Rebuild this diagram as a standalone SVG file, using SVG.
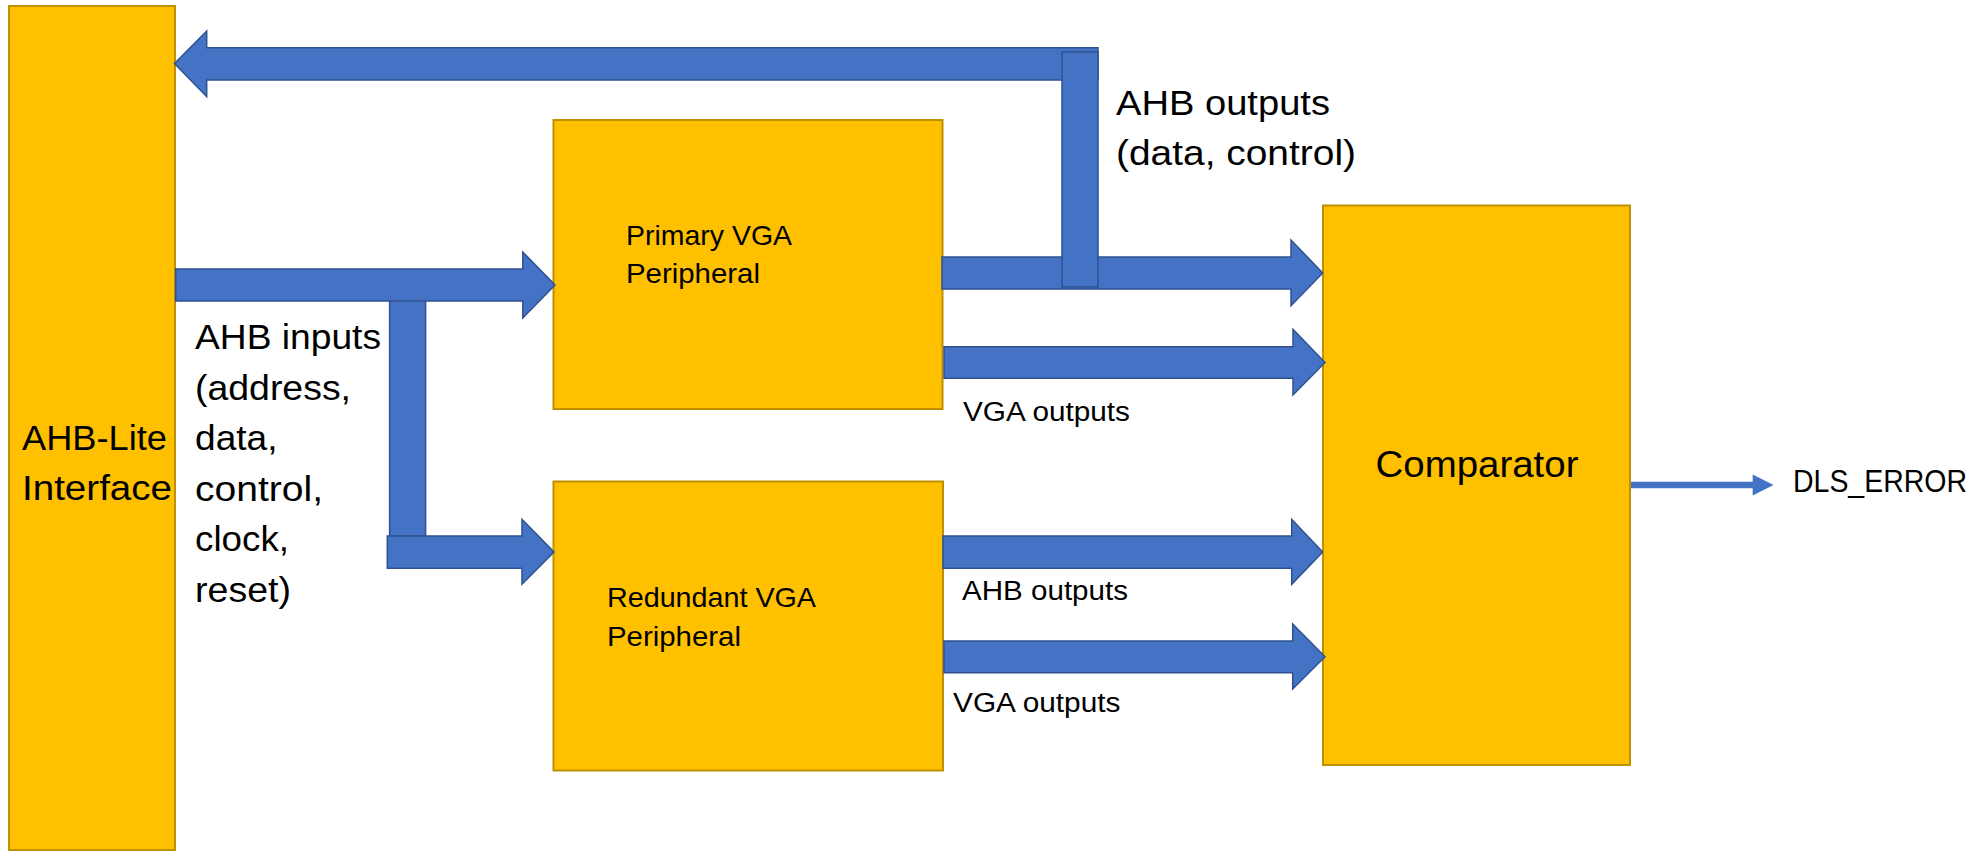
<svg xmlns="http://www.w3.org/2000/svg" width="1988" height="851" viewBox="0 0 1988 851">
<style>
.box{fill:#FFC000;stroke:#BF9000;stroke-width:2}
.bus{fill:#4472C4;stroke:#2F528F;stroke-width:1.5;stroke-linejoin:miter}
.txt{font-family:"Liberation Sans",Arial,sans-serif;fill:#000}
.big{font-size:35px}
.mid{font-size:28px}
.sm{font-size:27px}
</style>
<rect width="1988" height="851" fill="#FFFFFF"/>
<g id="ahb_lite">
<rect class="box" x="9" y="6" width="166" height="844"/>
<text class="txt big" x="22" y="450" textLength="145" lengthAdjust="spacingAndGlyphs">AHB-Lite</text>
<text class="txt big" x="22" y="500" textLength="150" lengthAdjust="spacingAndGlyphs">Interface</text>
</g>
<g id="primary">
<rect class="box" x="553.5" y="120" width="389" height="289"/>
<text class="txt mid" x="626" y="245" textLength="166" lengthAdjust="spacingAndGlyphs">Primary VGA</text>
<text class="txt mid" x="626" y="283" textLength="134" lengthAdjust="spacingAndGlyphs">Peripheral</text>
</g>
<g id="redundant">
<rect class="box" x="553.5" y="481.5" width="389.5" height="289"/>
<text class="txt mid" x="607" y="607" textLength="209" lengthAdjust="spacingAndGlyphs">Redundant VGA</text>
<text class="txt mid" x="607" y="646" textLength="134" lengthAdjust="spacingAndGlyphs">Peripheral</text>
</g>
<g id="comparator">
<rect class="box" x="1323" y="205.5" width="307" height="559.5"/>
<text class="txt" font-size="37" x="1375.5" y="477" textLength="203" lengthAdjust="spacingAndGlyphs">Comparator</text>
</g>
<g id="connectors">
<!-- input branch bar -->
<rect class="bus" x="389.6" y="300" width="36" height="236"/>
<!-- AHB inputs to primary -->
<polygon class="bus" points="175.7,269 522.8,269 522.8,252 555,285 522.8,318 522.8,301 175.7,301"/>
<!-- AHB inputs to redundant -->
<polygon class="bus" points="387.3,536 522,536 522,519.3 554,552 522,584.3 522,568.3 387.3,568.3"/>
<!-- feedback AHB outputs to AHB-Lite -->
<polygon class="bus" points="174.5,63.5 206.7,31 206.7,47.7 1098,47.7 1098,80 206.7,80 206.7,96.7"/>
<!-- primary AHB outputs to comparator -->
<polygon class="bus" points="942,257 1291,257 1291,240 1322.7,273 1291,305.7 1291,289 942,289"/>
<!-- feedback branch bar -->
<rect class="bus" x="1062" y="52" width="36" height="235"/>
<!-- primary VGA outputs -->
<polygon class="bus" points="944,346.7 1293,346.7 1293,329.3 1325,362.5 1293,395 1293,378.3 944,378.3"/>
<!-- redundant AHB outputs -->
<polygon class="bus" points="943,536 1291.7,536 1291.7,519.3 1322.7,552 1291.7,584.3 1291.7,568.3 943,568.3"/>
<!-- redundant VGA outputs -->
<polygon class="bus" points="944,641 1292.7,641 1292.7,624 1325,656.7 1292.7,689 1292.7,672.7 944,672.7"/>
<!-- DLS_ERROR -->
<line x1="1631" y1="485" x2="1754" y2="485" stroke="#4472C4" stroke-width="6.5"/>
<polygon points="1752.7,474.5 1773.5,485 1752.7,495.5" fill="#4472C4"/>
<text class="txt big" x="195" y="349" textLength="186" lengthAdjust="spacingAndGlyphs">AHB inputs</text>
<text class="txt big" x="195" y="399.5" textLength="156" lengthAdjust="spacingAndGlyphs">(address,</text>
<text class="txt big" x="195" y="450" textLength="82.5" lengthAdjust="spacingAndGlyphs">data,</text>
<text class="txt big" x="195" y="500.5" textLength="128" lengthAdjust="spacingAndGlyphs">control,</text>
<text class="txt big" x="195" y="551" textLength="94" lengthAdjust="spacingAndGlyphs">clock,</text>
<text class="txt big" x="195" y="601.5" textLength="96" lengthAdjust="spacingAndGlyphs">reset)</text>
<text class="txt big" x="1116" y="115" textLength="214" lengthAdjust="spacingAndGlyphs">AHB outputs</text>
<text class="txt big" x="1116" y="165" textLength="240" lengthAdjust="spacingAndGlyphs">(data, control)</text>
<text class="txt sm" x="963" y="421" textLength="167" lengthAdjust="spacingAndGlyphs">VGA outputs</text>
<text class="txt sm" x="962" y="600" textLength="166" lengthAdjust="spacingAndGlyphs">AHB outputs</text>
<text class="txt sm" x="953" y="712" textLength="167.5" lengthAdjust="spacingAndGlyphs">VGA outputs</text>
<text class="txt" font-size="32" x="1793" y="492" textLength="174" lengthAdjust="spacingAndGlyphs">DLS_ERROR</text>
</g>
</svg>
